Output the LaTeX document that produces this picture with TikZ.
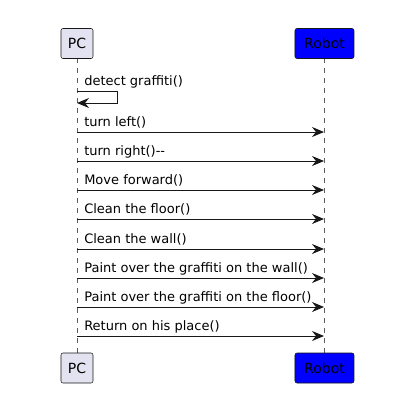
\documentclass[tikz,border=0pt]{standalone}
\usepackage{fontspec}
\setmainfont{DejaVu Sans}
\usetikzlibrary{arrows.meta}
\definecolor{partfill}{HTML}{E2E2F0}
\definecolor{lineclr}{HTML}{181818}
\definecolor{robotblue}{HTML}{0000FF}
\tikzset{
  part/.style={draw=lineclr, line width=0.4pt, rounded corners=1.5pt, minimum height=30*0.75pt, inner sep=0pt, font=\fontsize{10.5pt}{12pt}\selectfont},
  pcbox/.style={part, fill=partfill, minimum width=32*0.75pt},
  robotbox/.style={part, fill=robotblue, minimum width=59*0.75pt},
  life/.style={draw=lineclr!70, dash pattern=on 3.75pt off 3.75pt, line width=0.4pt},
  msg/.style={draw=lineclr, line width=0.75pt, -{Stealth[length=9pt, width=7.5pt, inset=3pt]}},
  lbl/.style={anchor=base west, inner sep=0pt, font=\fontsize{9.75pt}{11pt}\selectfont}
}
\begin{document}
\begin{tikzpicture}[x=0.75pt, y=-0.75pt]
\useasboundingbox (0,0) rectangle (412,412);
\fill[white] (0,0) rectangle (412,412);
% lifelines
\coordinate (pcT) at (77,58);
\coordinate (pcB) at (77,353);
\coordinate (rbT) at (324,58);
\coordinate (rbB) at (324,353);
\draw[life] (pcT) -- (pcB);
\draw[life] (rbT) -- (rbB);
% participants
\node[pcbox] (pc1) at (77,43.5) {PC};
\node[robotbox] (rb1) at (324.5,43.5) {Robot};
\node[pcbox] (pc2) at (77,368) {PC};
\node[robotbox] (rb2) at (324.5,368) {Robot};
% self message
\coordinate (s1) at (77,91);
\coordinate (s2) at (118,91);
\coordinate (s3) at (118,103);
\coordinate (s4) at (77,103);
\node[lbl] (l0) at (84,85) {detect graffiti()};
\draw[msg] (s1) -- (s2) -- (s3) -- (s4);
% messages
\foreach \y/\t/\n in {132/turn left()/1, 161/{turn right(){-}{-}}/2, 190/Move forward()/3, 219/Clean the floor()/4, 249/Clean the wall()/5, 278/Paint over the graffiti on the wall()/6, 307/Paint over the graffiti on the floor()/7, 336/Return on his place()/8}{
  \coordinate (a\n) at (77,\y);
  \coordinate (b\n) at (324,\y);
  \node[lbl] (l\n) at (84,\y-6) {\t};
  \draw[msg] (a\n) -- (b\n);
}
\end{tikzpicture}
\end{document}
